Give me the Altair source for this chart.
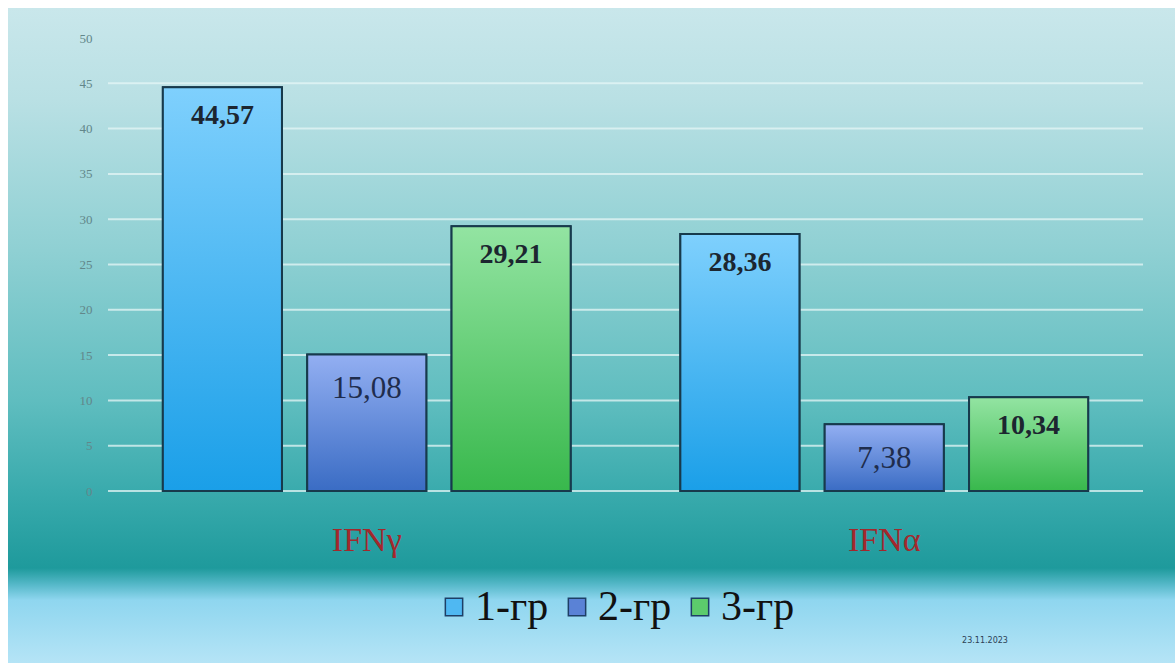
import altair as alt
import pandas as pd

categories = ["IFNγ", "IFNα"]
groups = ["1-гр", "2-гр", "3-гр"]
values_g1 = [44.57, 28.36]
values_g2 = [15.08, 7.38]
values_g3 = [29.21, 10.34]
y_ticks = [0, 5, 10, 15, 20, 25, 30, 35, 40, 45, 50]
date_text = "23.11.2023"

rows = []
for g, vals in zip(groups, [values_g1, values_g2, values_g3]):
    for c, v in zip(categories, vals):
        rows.append({"cat": c, "group": g, "value": v,
                     "label": f"{v:.2f}".replace(".", ",")})
df = pd.DataFrame(rows)
grid_df = pd.DataFrame({"value": y_ticks})

solid = ["#4fb8f2", "#5a82d6", "#5ccb6c"]
grads = [("#7fd0fd", "#1a9fe8"), ("#93aff2", "#3a6cc4"), ("#93e4a2", "#38b84c")]

x_enc = alt.X("cat:N", sort=categories, title=None,
              scale=alt.Scale(paddingInner=0, paddingOuter=0),
              axis=alt.Axis(labelAngle=0, domain=False, ticks=False, grid=False,
                            labelFont="Liberation Serif", labelFontSize=34,
                            labelColor="#a3282c", labelPadding=32, zindex=1))
xo_enc = alt.XOffset("group:N", sort=groups,
                     scale=alt.Scale(paddingInner=0.175, paddingOuter=0.38))
y_scale = alt.Scale(domain=[0, 50], nice=False)
y_enc = alt.Y("value:Q", title=None, scale=y_scale,
              axis=alt.Axis(values=y_ticks, domain=False, ticks=False, grid=False,
                            labelFont="Liberation Serif", labelFontSize=13,
                            labelColor="#62878a", labelPadding=16, zindex=1))

bg_stops = [
    (0.0, "#c9e7eb"), (0.14, "#b9e0e4"), (0.37, "#8fd0d3"), (0.60, "#5fbdbf"),
    (0.736, "#3aabad"), (0.855, "#1e9a9c"), (0.88, "#55b8c8"), (0.904, "#8fd6ef"),
    (1.0, "#b5e4f6"),
]
background = alt.Chart(df).mark_rect(
    fill=alt.Gradient(gradient="linear", x1=0, y1=0, x2=0, y2=1,
                      stops=[alt.GradientStop(offset=o, color=c) for o, c in bg_stops])
).encode(x=alt.value(-100), x2=alt.value(1067), y=alt.value(-30), y2=alt.value(625))

grid = alt.Chart(grid_df).transform_filter(alt.datum.value < 50).mark_rule(
    color="#e6f6f6", opacity=0.75, strokeWidth=2
).encode(y=y_enc)

base_bars = alt.Chart(df).mark_bar(stroke="#173a4c", strokeWidth=2).encode(
    x=x_enc, xOffset=xo_enc, y=y_enc,
    color=alt.Color("group:N", sort=groups,
                    scale=alt.Scale(domain=groups, range=solid),
                    legend=alt.Legend(title=None, orient="none", direction="horizontal",
                                      legendX=325, legendY=548,
                                      symbolType="square", symbolSize=300,
                                      symbolStrokeColor="#1d3f66", symbolStrokeWidth=1.5,
                                      labelFont="Liberation Serif", labelFontSize=42,
                                      labelColor="#111111", labelOffset=0,
                                      columnPadding=7, labelLimit=200)),
)

grad_layers = []
for g, (top, bot) in zip(groups, grads):
    grad_layers.append(
        alt.Chart(df).transform_filter(alt.datum.group == g).mark_bar(
            stroke="#173a4c", strokeWidth=2,
            fill=alt.Gradient(gradient="linear", x1=0, y1=0, x2=0, y2=1,
                              stops=[alt.GradientStop(offset=0, color=top),
                                     alt.GradientStop(offset=1, color=bot)])
        ).encode(x=x_enc, xOffset=xo_enc, y=y_enc)
    )

text_bold = alt.Chart(df).transform_filter(alt.datum.group != "2-гр").mark_text(
    font="Liberation Serif", fontWeight="bold", fontSize=28, color="#1c2630",
    baseline="middle", dy=29
).encode(x=x_enc, xOffset=xo_enc, y=y_enc, text="label:N")

text_norm = alt.Chart(df).transform_filter(alt.datum.group == "2-гр").mark_text(
    font="Liberation Serif", fontSize=31, color="#1f2d4d",
    baseline="middle", dy=35
).encode(x=x_enc, xOffset=xo_enc, y=y_enc, text="label:N")

date_mark = alt.Chart(pd.DataFrame({"t": [date_text]})).mark_text(
    font="DejaVu Sans", fontSize=8, color="#2d3f55", align="center", baseline="middle"
).encode(x=alt.value(877), y=alt.value(603), text="t:N")

chart = alt.layer(background, grid, base_bars, *grad_layers, text_bold, text_norm, date_mark).properties(
    width=1035, height=453,
    autosize=alt.AutoSizeParams(type="none"),
    padding={"left": 108, "top": 38, "right": 32, "bottom": 172},
    background="white",
).configure_view(strokeWidth=0)

chart.save("out.html", embed_options={"renderer": "svg", "actions": False})
